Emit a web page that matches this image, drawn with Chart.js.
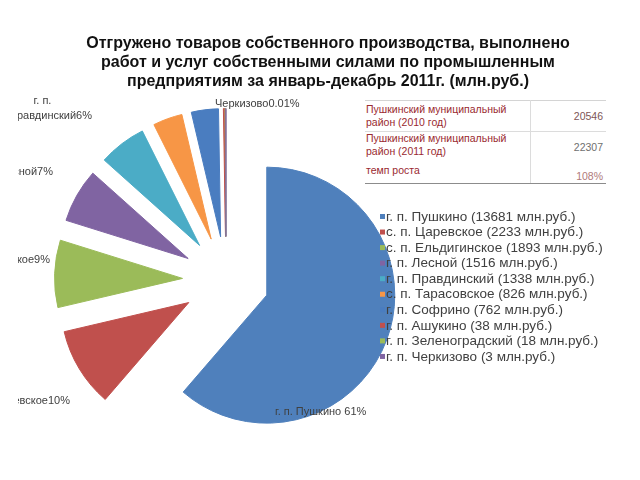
<!DOCTYPE html>
<html lang="ru">
<head>
<meta charset="utf-8">
<title>Отгружено товаров собственного производства</title>
<script src="https://cdn.jsdelivr.net/npm/chart.js@4.4.1/dist/chart.umd.min.js"></script>
<style>
  html, body { margin: 0; padding: 0; background: #fff; }
  #wrap { position: relative; width: 640px; height: 480px; overflow: hidden;
          font-family: "Liberation Sans", Arial, sans-serif; }
  #chart { position: absolute; left: 0; top: 0; }
  #title { position: absolute; left: 8px; top: 33px; width: 640px; text-align: center;
           font-weight: bold; font-size: 16px; line-height: 19px; color: #111; }
  #stats { position: absolute; left: 365px; top: 100px; width: 241px; border-collapse: collapse;
           font-size: 10.5px; line-height: 13px; background: #fff; }
  #stats td { padding: 0; }
  #stats .lbl { width: 164px; color: #9a2a30; padding-left: 1px; border-right: 1px solid #dcdcdc; }
  #stats .num { text-align: right; padding-right: 3px; color: #7d5555; }
  #stats tr.r1 td { height: 30px; border-top: 1px solid #d4d4d4; border-bottom: 1px solid #dcdcdc; }
  #stats tr.r2 td { height: 26px; }
  #stats tr.r2 .num { padding-top: 5px; height: 21px; color: #707070; }
  #stats tr.r3 td { height: 25px; border-bottom: 1px solid #8c8c8c; }
  #stats tr.r3 .num { vertical-align: bottom; color: #b07a7a; }
</style>
</head>
<body>
<div id="wrap">
  <canvas id="chart" width="640" height="480"></canvas>
  <div id="title">Отгружено товаров собственного производства, выполнено<br>работ и услуг собственными силами по промышленным<br>предприятиям за январь-декабрь 2011г. (млн.руб.)</div>
  <table id="stats">
    <tr class="r1"><td class="lbl">Пушкинский муниципальный<br>район (2010 год)</td><td class="num">20546</td></tr>
    <tr class="r2"><td class="lbl">Пушкинский муниципальный<br>район (2011 год)</td><td class="num">22307</td></tr>
    <tr class="r3"><td class="lbl">темп роста</td><td class="num">108%</td></tr>
  </table>
</div>
<script>
  // ── Data ──
  var settlements = ['г. п. Пушкино', 'с. п. Царевское', 'с. п. Ельдигинское', 'г. п. Лесной',
                     'г. п. Правдинский', 'с. п. Тарасовское', 'г. п. Софрино', 'г. п. Ашукино',
                     'г. п. Зеленоградский', 'г. п. Черкизово'];
  var shipped = [13681, 2233, 1893, 1516, 1338, 826, 762, 38, 18, 3];
  var sliceLabels = ['г. п. Пушкино 61%', 'с. п. Царевское10%', 'с. п. Ельдигинское9%', 'г. п. Лесной7%',
                     'г. п.\nПравдинский6%', '', '', '', '', 'Черкизово0.01%'];

  var sliceColors = ['#4f80bc', '#c0504d', '#9bbb59', '#8064a2', '#4bacc6',
                     '#f79646', '#4a7dc0', '#c0504d', '#9bbb59', '#8064a2'];

  // where Excel put the data labels (text only)
  var labelPos = [
    { x: 275, y: 412, align: 'left' },
    { x: 70,  y: 401, align: 'right' },
    { x: 50,  y: 260, align: 'right' },
    { x: 53,  y: 172, align: 'right' },
    { x: 92,  y: 116, align: 'right' },
    null, null, null, null,
    { x: 215, y: 104, align: 'left' }
  ];
  var EXPLODE = 43.5;

  // push every slice out along its middle angle
  var explodePlugin = {
    id: 'explode',
    afterDatasetUpdate: function(chart, args) {
      args.meta.data.forEach(function(arc) {
        var mid = (arc.startAngle + arc.endAngle) / 2;
        arc.x += Math.cos(mid) * EXPLODE;
        arc.y += Math.sin(mid) * EXPLODE;
      });
    }
  };

  var sliceLabelPlugin = {
    id: 'sliceLabels',
    afterDatasetsDraw: function(chart) {
      var ctx = chart.ctx;
      ctx.save();
      ctx.beginPath();
      ctx.rect(18, 0, 640, 480);
      ctx.clip();
      ctx.font = '11px "Liberation Sans", Arial, sans-serif';
      ctx.fillStyle = '#404040';
      ctx.textBaseline = 'middle';
      sliceLabels.forEach(function(txt, i) {
        var p = labelPos[i];
        if (!txt || !p) return;
        var lines = txt.split('\n');
        if (lines.length > 1) {
          // first line centred above the second
          var w = ctx.measureText(lines[1]).width;
          ctx.textAlign = 'center';
          ctx.fillText(lines[0], p.x - w / 2 - 8, p.y - 15);
          ctx.textAlign = p.align;
          ctx.fillText(lines[1], p.x, p.y);
        } else {
          ctx.textAlign = p.align;
          ctx.fillText(txt, p.x, p.y);
        }
      });
      ctx.restore();
    }
  };

  var legendPlugin = {
    id: 'sideLegend',
    afterDraw: function(chart) {
      var ctx = chart.ctx;
      var ds = chart.data.datasets[0];
      ctx.save();
      ctx.font = '13.5px "Liberation Sans", Arial, sans-serif';
      ctx.textBaseline = 'middle';
      ctx.textAlign = 'left';
      chart.data.labels.forEach(function(name, i) {
        var y = 217 + i * 15.55;
        ctx.fillStyle = ds.backgroundColor[i];
        ctx.fillRect(380, y - 3, 5, 5);
        ctx.fillStyle = '#404040';
        ctx.fillText(name + ' (' + ds.data[i] + ' млн.руб.)', 386, y);
      });
      ctx.restore();
    }
  };

  var ctx = document.getElementById('chart').getContext('2d');
  var chart = new Chart(ctx, {
    type: 'pie',
    data: {
      labels: settlements,
      datasets: [{
        data: shipped,
        backgroundColor: sliceColors,
        borderColor: sliceColors,
        borderWidth: 1
      }]
    },
    options: {
      responsive: false,
      animation: false,
      events: [],
      radius: 128,
      layout: { padding: { left: 0, right: 188, top: 95, bottom: 15 } },
      plugins: {
        legend: { display: false },
        tooltip: { enabled: false },
        title: { display: false }
      }
    },
    plugins: [explodePlugin, sliceLabelPlugin, legendPlugin]
  });
</script>
</body>
</html>
